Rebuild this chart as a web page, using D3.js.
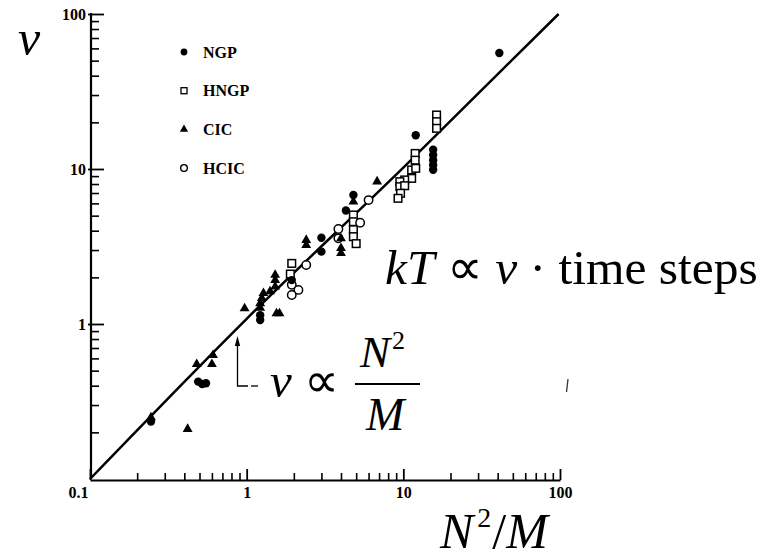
<!DOCTYPE html>
<html>
<head>
<meta charset="utf-8">
<script src="https://cdn.jsdelivr.net/npm/d3@7"></script>
<style>
  html, body { margin: 0; padding: 0; background: #fff; }
  svg { display: block; }
  .tick text { font-family: "Liberation Serif", "Times New Roman", serif; font-weight: bold; }
</style>
</head>
<body>
<svg id="chart" width="762" height="559"></svg>
<script>
// Damping coefficient nu versus N^2/M for the four interpolation schemes
const ngpX  = [41, 12, 15.5, 15.5, 15.5, 15.5, 15.5, 4.8, 4.3, 3.0, 3.0, 1.94, 1.22, 1.22, 0.49, 0.52, 0.55, 0.245];
const ngpY  = [56, 16.5, 13.3, 12.3, 11.4, 10.6, 9.9, 6.8, 5.4, 3.6, 2.93, 1.92, 1.14, 1.06, 0.425, 0.41, 0.415, 0.235];

const hngpX = [16.3, 16.3, 16.3, 11.9, 11.9, 11.3, 12.0, 11.3, 10.2, 9.5, 9.5, 10.2, 9.6, 9.25, 4.8, 4.8, 4.8, 4.8, 5.0, 1.94, 1.9];
const hngpY = [22.3, 20.2, 18.3, 12.6, 11.4, 9.86, 10.1, 8.7, 8.5, 8.28, 7.69, 7.8, 6.97, 6.47, 5.05, 4.57, 4.06, 3.66, 3.3, 2.46, 2.1];

const cicX  = [6.8, 4.8, 4.0, 4.0, 4.0, 2.4, 2.4, 1.52, 1.52, 1.52, 1.28, 1.25, 1.22, 1.41, 0.97, 1.22, 1.55, 1.62, 0.48, 0.60, 0.61, 0.42, 0.245];
const cicY  = [8.3, 6.15, 3.57, 3.08, 2.86, 3.48, 3.23, 2.07, 1.92, 1.74, 1.58, 1.47, 1.36, 1.62, 1.26, 1.27, 1.17, 1.17, 0.55, 0.55, 0.63, 0.21, 0.25];

const hcicX = [6.0, 5.3, 3.85, 3.85, 2.4, 1.94, 2.14, 1.94];
const hcicY = [6.3, 4.5, 4.1, 3.57, 2.4, 1.79, 1.66, 1.54];

// Fitted relation nu ~ N^2/M
const fitX = [0.1, 1, 10, 98];
const fitY = [0.1, 1.08, 10.2, 100];

const majorTicks = [0.1, 1, 10, 100];
const tickLabels = ["0.1", "1", "10", "100"];
const legendNames = ["NGP", "HNGP", "CIC", "HCIC"];

const svg = d3.select("#chart");
const x = d3.scaleLog().domain([0.1, 100]).range([90, 560]);
const y = d3.scaleLog().domain([0.1, 100]).range([479, 14]);

const minorTicks = [];
for (let d = 0.1; d < 100; d *= 10) {
  for (let k = 2; k <= 9; k++) minorTicks.push(+(d * k).toPrecision(3));
}
const serif = '"Liberation Serif", "Times New Roman", serif';

// minor ticks (inside)
svg.append("g").attr("transform", "translate(0,480)")
  .call(d3.axisBottom(x).tickValues(minorTicks).tickSizeInner(-7).tickSizeOuter(0).tickFormat(""))
  .call(g => g.select(".domain").remove())
  .call(g => g.selectAll("line").attr("stroke-width", 1.6));
svg.append("g").attr("transform", "translate(91,0)")
  .call(d3.axisLeft(y).tickValues(minorTicks).tickSizeInner(-8).tickSizeOuter(0).tickFormat(""))
  .call(g => g.select(".domain").remove())
  .call(g => g.selectAll("line").attr("stroke-width", 1.6));

// major ticks with labels
svg.append("g").attr("transform", "translate(0,480)")
  .call(d3.axisBottom(x).tickValues(majorTicks).tickSizeInner(-11).tickSizeOuter(0)
    .tickPadding(0).tickFormat((d, i) => tickLabels[i]))
  .call(g => g.select(".domain").attr("stroke-width", 2.2))
  .call(g => g.selectAll("line").attr("stroke-width", 1.8))
  .call(g => g.selectAll("text").attr("font-size", 16).attr("fill", "#000").attr("y", 18).attr("dy", 0))
  .call(g => g.selectAll("text").filter(d => d === 0.1).attr("text-anchor", "end").attr("dx", -2));
svg.append("g").attr("transform", "translate(91,0)")
  .call(d3.axisLeft(y).tickValues(majorTicks.filter(d => d > 0.1)).tickSizeInner(-13).tickSizeOuter(0)
    .tickPadding(0).tickFormat(d => tickLabels[majorTicks.indexOf(d)]))
  .call(g => g.select(".domain").attr("stroke-width", 2.2).attr("d", "M0,479V13"))
  .call(g => g.selectAll("line").attr("stroke-width", 1.8).attr("x1", -3))
  .call(g => g.selectAll("text").attr("font-size", 16).attr("fill", "#000").attr("x", -5).attr("dy", "0.35em"));

// fitted line
svg.append("path")
  .datum(fitX.map((v, i) => [v, fitY[i]]))
  .attr("fill", "none").attr("stroke", "#000").attr("stroke-width", 2.5)
  .attr("d", d3.line().x(d => x(d[0])).y(d => y(d[1])).curve(d3.curveMonotoneX));

// markers
function drawMarkers(xs, ys, kind) {
  const g = svg.append("g");
  const pts = xs.map((v, i) => [x(v), y(ys[i])]);
  if (kind === "NGP") {
    g.selectAll("circle").data(pts).join("circle")
      .attr("cx", d => d[0]).attr("cy", d => d[1]).attr("r", 4.2).attr("fill", "#000");
  } else if (kind === "HCIC") {
    g.selectAll("circle").data(pts).join("circle")
      .attr("cx", d => d[0]).attr("cy", d => d[1]).attr("r", 4.2)
      .attr("fill", "#fff").attr("stroke", "#000").attr("stroke-width", 1.5);
  } else if (kind === "HNGP") {
    g.selectAll("rect").data(pts).join("rect")
      .attr("x", d => d[0] - 3.8).attr("y", d => d[1] - 3.8).attr("width", 7.6).attr("height", 7.6)
      .attr("fill", "#fff").attr("stroke", "#000").attr("stroke-width", 1.5);
  } else {
    g.selectAll("path").data(pts).join("path")
      .attr("transform", d => `translate(${d[0]},${d[1]})`)
      .attr("d", d3.symbol(d3.symbolTriangle, 42)).attr("fill", "#000");
  }
}
drawMarkers(hngpX, hngpY, "HNGP");
drawMarkers(hcicX, hcicY, "HCIC");
drawMarkers(cicX, cicY, "CIC");
drawMarkers(ngpX, ngpY, "NGP");

// legend
const leg = svg.append("g").attr("transform", "translate(184,52)");
legendNames.forEach((name, i) => {
  const row = leg.append("g").attr("transform", `translate(0,${i * 38.7})`);
  if (name === "NGP") row.append("circle").attr("r", 3.4).attr("fill", "#000");
  if (name === "HNGP") row.append("rect").attr("x", -3).attr("y", -3).attr("width", 6).attr("height", 6)
    .attr("fill", "#fff").attr("stroke", "#000").attr("stroke-width", 1.3);
  if (name === "CIC") row.append("path").attr("d", d3.symbol(d3.symbolTriangle, 30)).attr("fill", "#000");
  if (name === "HCIC") row.append("circle").attr("r", 3.4).attr("fill", "#fff").attr("stroke", "#000").attr("stroke-width", 1.3);
  row.append("text").attr("x", 19).attr("y", 5.5)
    .attr("font-family", serif).attr("font-weight", "bold").attr("font-size", 16).text(name);
});

// annotation arrow
const ann = svg.append("g").attr("stroke", "#000").attr("stroke-width", 1.3).attr("fill", "none");
ann.append("path").attr("d", "M237.5,343V386H248");
ann.append("path").attr("d", "M251,386H258");
svg.append("path").attr("d", "M237.5,336L234.8,346H240.2Z").attr("fill", "#000");

// stray mark
svg.append("path").attr("d", "M568,379L566.5,392").attr("stroke", "#333").attr("stroke-width", 1.3);

// formulas
const eq = svg.append("g").attr("font-family", serif).attr("fill", "#000");
const t1 = eq.append("text").attr("x", 385).attr("y", 284).attr("font-size", 49.5);
t1.append("tspan").attr("font-style", "italic").text("kT");
t1.append("tspan").text(" \u221D ");
t1.append("tspan").attr("font-style", "italic").text("\u03BD");
t1.append("tspan").text(" \u00B7 time steps");

const t2 = eq.append("text").attr("x", 270).attr("y", 397).attr("font-size", 49);
t2.append("tspan").attr("font-style", "italic").text("\u03BD");
t2.append("tspan").text(" \u221D");

const num = eq.append("text").attr("x", 360).attr("y", 367).attr("font-size", 45);
num.append("tspan").attr("font-style", "italic").text("N");
num.append("tspan").attr("font-size", 26).attr("dy", -18).attr("dx", 2).text("2");
eq.append("line").attr("x1", 355).attr("x2", 420).attr("y1", 384).attr("y2", 384)
  .attr("stroke", "#000").attr("stroke-width", 2);
eq.append("text").attr("x", 366).attr("y", 430).attr("font-size", 46).attr("font-style", "italic").text("M");

// x-axis title N^2/M
const xt = eq.append("text").attr("x", 440).attr("y", 548).attr("font-size", 50);
xt.append("tspan").attr("font-style", "italic").text("N");
xt.append("tspan").attr("font-size", 28).attr("dy", -21).attr("dx", 4).text("2");
xt.append("tspan").attr("dy", 21).attr("dx", 1).text("/");
xt.append("tspan").attr("font-style", "italic").text("M");

eq.append("text").attr("x", 18).attr("y", 55).attr("font-size", 50).attr("font-style", "italic").text("\u03BD");
</script>
</body>
</html>
